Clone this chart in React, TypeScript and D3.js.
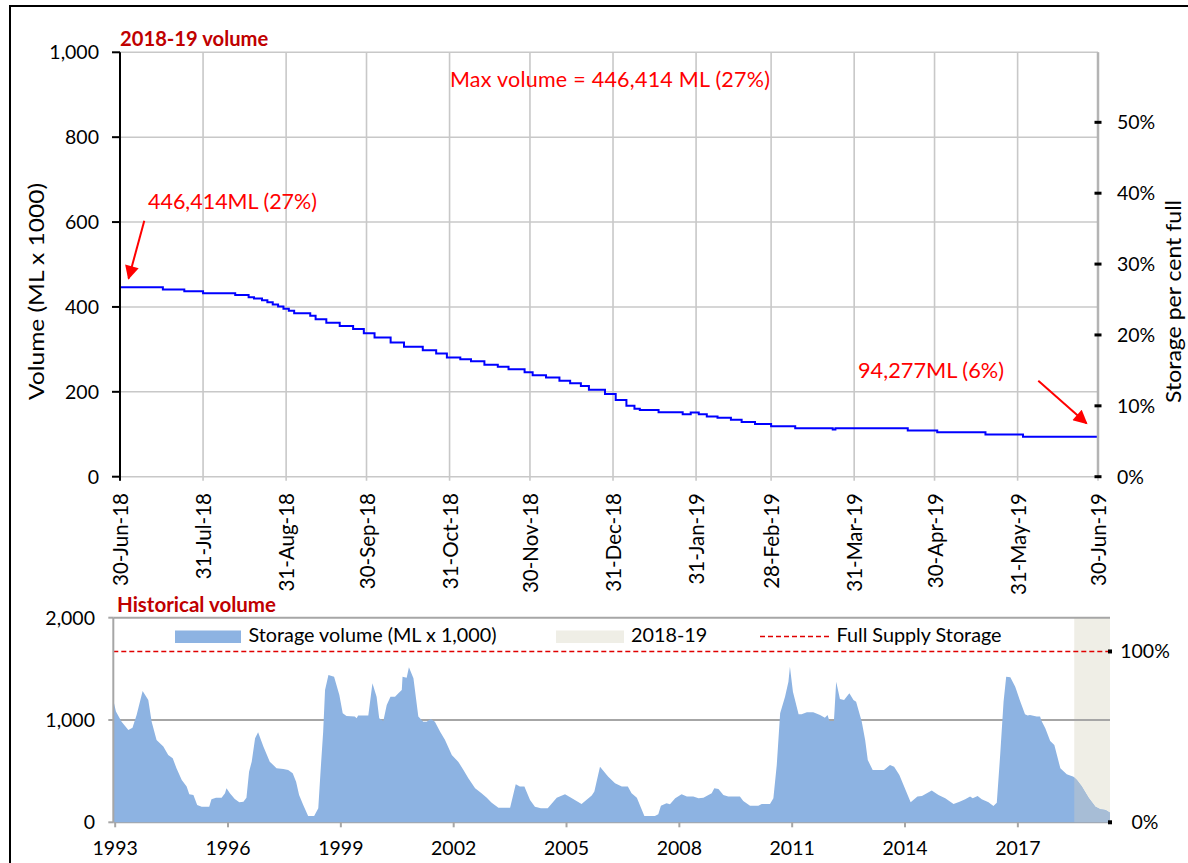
import React from 'react';
import * as d3 from 'd3';

// ---------- DATA ----------
const FULL_SUPPLY = 1670; // ML x 1000

const dailyDates = [
  '2018-06-30', '2018-07-16', '2018-07-24', '2018-07-31', '2018-08-12', '2018-08-17',
  '2018-08-19', '2018-08-22', '2018-08-24', '2018-08-26', '2018-08-28', '2018-08-30',
  '2018-09-01', '2018-09-03', '2018-09-09', '2018-09-11', '2018-09-15', '2018-09-20',
  '2018-09-25', '2018-09-29', '2018-10-03', '2018-10-09', '2018-10-14', '2018-10-21',
  '2018-10-26', '2018-10-30', '2018-11-04', '2018-11-08', '2018-11-13', '2018-11-18',
  '2018-11-22', '2018-11-28', '2018-12-01', '2018-12-06', '2018-12-11', '2018-12-15',
  '2018-12-19', '2018-12-22', '2018-12-28', '2019-01-01', '2019-01-05', '2019-01-08',
  '2019-01-10', '2019-01-17', '2019-01-26', '2019-01-29', '2019-02-01', '2019-02-04',
  '2019-02-08', '2019-02-13', '2019-02-17', '2019-02-22', '2019-02-28', '2019-03-09',
  '2019-03-23', '2019-03-24', '2019-04-20', '2019-05-01', '2019-05-19', '2019-06-02',
  '2019-06-30',
];
const dailyVolume = [
  446.4, 441, 437, 432, 428, 423,
  420, 416, 411, 406, 401, 396,
  391, 385, 379, 371, 363, 355,
  348, 338, 328, 316, 306, 298,
  290, 281, 277, 272, 264, 259,
  253, 246, 239, 234, 226, 220,
  214, 205, 195, 181, 167, 160,
  157, 152, 147, 151, 147, 142,
  139, 134, 129, 124, 119, 114,
  111, 114, 109, 104.5, 99.5, 94.3,
  94.3,
];

const monthTicks = [
  '2018-06-30', '2018-07-31', '2018-08-31', '2018-09-30', '2018-10-31', '2018-11-30',
  '2018-12-31', '2019-01-31', '2019-02-28', '2019-03-31', '2019-04-30', '2019-05-31',
  '2019-06-30',
];

const histYears = [
  1992.95, 1993.02, 1993.17, 1993.35, 1993.46, 1993.57, 1993.73, 1993.88, 1993.97, 1994.10,
  1994.28, 1994.41, 1994.53, 1994.63, 1994.77, 1994.90, 1994.97, 1995.08, 1995.18, 1995.30,
  1995.50, 1995.56, 1995.68, 1995.83, 1995.92, 1995.96, 1996.05, 1996.18, 1996.30, 1996.41,
  1996.49, 1996.56, 1996.63, 1996.72, 1996.80, 1996.94, 1997.11, 1997.29, 1997.47, 1997.60,
  1997.72, 1997.81, 1997.89, 1998.00, 1998.13, 1998.29, 1998.40, 1998.46, 1998.53, 1998.58,
  1998.67, 1998.82, 1998.96, 1999.05, 1999.15, 1999.37, 1999.42, 1999.46, 1999.73, 1999.84,
  1999.95, 2000.02, 2000.13, 2000.22, 2000.32, 2000.44, 2000.53, 2000.62, 2000.64, 2000.75,
  2000.81, 2000.93, 2001.06, 2001.19, 2001.28, 2001.39, 2001.50, 2001.64, 2001.77, 2001.95,
  2002.12, 2002.26, 2002.39, 2002.57, 2002.74, 2002.88, 2003.01, 2003.19, 2003.50, 2003.65,
  2003.76, 2003.88, 2004.03, 2004.16, 2004.32, 2004.50, 2004.74, 2004.96, 2005.12, 2005.40,
  2005.67, 2005.74, 2005.89, 2006.11, 2006.29, 2006.47, 2006.63, 2006.73, 2006.87, 2007.07,
  2007.35, 2007.44, 2007.51, 2007.66, 2007.75, 2007.89, 2008.06, 2008.20, 2008.37, 2008.51,
  2008.64, 2008.86, 2008.93, 2009.04, 2009.17, 2009.30, 2009.61, 2009.70, 2009.88, 2010.10,
  2010.19, 2010.41, 2010.50, 2010.59, 2010.68, 2010.81, 2010.90, 2010.94, 2011.02, 2011.17,
  2011.25, 2011.39, 2011.56, 2011.74, 2011.87, 2011.94, 2011.99, 2012.11, 2012.17, 2012.27,
  2012.38, 2012.52, 2012.63, 2012.70, 2012.85, 2012.94, 2013.01, 2013.14, 2013.44, 2013.60,
  2013.71, 2013.85, 2013.96, 2014.15, 2014.33, 2014.45, 2014.71, 2014.89, 2015.07, 2015.29,
  2015.45, 2015.60, 2015.73, 2015.80, 2015.93, 2016.04, 2016.22, 2016.35, 2016.44, 2016.53,
  2016.62, 2016.69, 2016.80, 2016.93, 2017.06, 2017.19, 2017.26, 2017.32, 2017.50, 2017.59,
  2017.63, 2017.73, 2017.86, 2017.97, 2018.13, 2018.30, 2018.48, 2018.57, 2018.70, 2018.88,
  2019.06, 2019.19, 2019.33, 2019.45,
];
const histVolume = [
  1196, 1082, 984, 902, 925, 1049, 1284, 1196, 984, 805,
  740, 658, 626, 528, 414, 349, 274, 267, 169, 153,
  153, 225, 241, 241, 283, 332, 283, 228, 195, 202,
  241, 495, 593, 821, 880, 740, 593, 528, 521, 512,
  479, 397, 267, 169, 62, 62, 137, 495, 886, 1293,
  1440, 1424, 1245, 1065, 1039, 1033, 1016, 1043, 1043, 1359,
  1228, 1016, 990, 1147, 1228, 1228, 1261, 1293, 1424, 1414,
  1515, 1407, 1033, 984, 984, 1010, 984, 886, 805, 658,
  593, 512, 430, 332, 283, 241, 192, 143, 143, 371,
  349, 349, 218, 153, 137, 137, 241, 274, 241, 179,
  261, 300, 544, 446, 381, 349, 349, 283, 241, 62,
  62, 78, 163, 186, 176, 235, 274, 251, 251, 235,
  241, 283, 332, 326, 267, 251, 251, 209, 163, 163,
  179, 179, 235, 560, 1065, 1228, 1375, 1521, 1277, 1056,
  1056, 1075, 1075, 1049, 1023, 1049, 990, 990, 1375, 1205,
  1196, 1261, 1196, 1179, 984, 805, 609, 512, 512, 560,
  544, 463, 365, 195, 251, 257, 310, 267, 235, 179,
  202, 225, 251, 235, 257, 225, 195, 160, 192, 658,
  1179, 1424, 1417, 1326, 1186, 1056, 1043, 1049, 1033, 1033,
  990, 919, 795, 756, 528, 469, 446, 414, 349, 241,
  153, 127, 121, 94.3,
];

const topVolumeTicks = [0, 200, 400, 600, 800, 1000];
const topPctTicks = [0, 0.1, 0.2, 0.3, 0.4, 0.5];
const histVolumeTicks = [0, 1000, 2000];
const histPctTicks = [0, 1];
const yearTicks = [1993, 1996, 1999, 2002, 2005, 2008, 2011, 2014, 2017];
const periodStart = 2018.5;
const periodEnd = 2019.45;

// ---------- LAYOUT ----------
const W = 1188;
const H = 863;
const FONT = "Lato, 'Noto Sans', sans-serif";
const TITLE_RED = '#c00000';
const ANNOT_RED = '#ff0000';

const parse = d3.timeParse('%Y-%m-%d');
const fmtTick = d3.timeFormat('%d-%b-%y');
const fmtNum = d3.format(',');
const fmtPct = d3.format('.0%');

export default function App() {
  // top chart scales
  const xT = d3.scaleTime().domain([parse('2018-06-30')!, parse('2019-06-30')!]).range([120, 1098]);
  const yT = d3.scaleLinear().domain([0, 1000]).range([476.7, 52.3]);
  const yTP = d3.scaleLinear().domain([0, 1000 / FULL_SUPPLY]).range([476.7, 52.3]);

  const topPts = dailyDates.map((d, i) => ({ d: parse(d)!, v: dailyVolume[i] }));
  const topLine = d3.line<{ d: Date; v: number }>().x(p => xT(p.d)).y(p => yT(p.v)).curve(d3.curveStepAfter)(topPts) || '';

  // bottom chart scales
  const xH = d3.scaleLinear().domain([1992.95, 2019.45]).range([113.3, 1110]);
  const yH = d3.scaleLinear().domain([0, 2000]).range([822.3, 617.7]);
  const yHP = d3.scaleLinear().domain([0, 1]).range([yH(0), yH(FULL_SUPPLY)]);
  const histPts = histYears.map((y, i) => ({ y, v: histVolume[i] }));
  const histArea = d3.area<{ y: number; v: number }>().x(p => xH(p.y)).y0(yH(0)).y1(p => yH(p.v))(histPts) || '';

  const [tx0, tx1] = xT.range();
  const [hx0, hx1] = xH.range();

  return (
    <svg width={W} height={H} style={{ position: 'absolute', left: 0, top: 0, background: '#fff' }} fontFamily={FONT}>
      <defs>
        <marker id="arrowHead" viewBox="0 0 10 10" refX="9" refY="5" markerWidth="7.5" markerHeight="7" orient="auto">
          <path d="M0,0 L10,5 L0,10 z" fill={ANNOT_RED} />
        </marker>
        <clipPath id="periodClip">
          <rect x={xH(periodStart)} y={yH(2000)} width={xH(periodEnd) - xH(periodStart)} height={yH(0) - yH(2000)} />
        </clipPath>
      </defs>
      <rect x={0} y={0} width={W} height={H} fill="#fff" />
      {/* outer border */}
      <rect x={10} y={6} width={1300} height={1000} fill="none" stroke="#000" strokeWidth={2} />

      {/* ===== TOP CHART ===== */}
      <text x={120} y={46} fill={TITLE_RED} fontWeight="bold" fontSize={20.2}>2018-19 volume</text>

      {/* gridlines */}
      {topVolumeTicks.map(t => (
        <line key={'hg' + t} x1={tx0} x2={tx1} y1={yT(t)} y2={yT(t)} stroke="#c8c8c8" strokeWidth={1.6} />
      ))}
      {monthTicks.map(t => (
        <line key={'vg' + t} x1={xT(parse(t)!)} x2={xT(parse(t)!)} y1={yT(1000)} y2={yT(0) + 4} stroke="#c8c8c8" strokeWidth={1.6} />
      ))}

      {/* line */}
      <path d={topLine} fill="none" stroke="#0000ff" strokeWidth={2} />

      {/* left axis */}
      <line x1={tx0} x2={tx0} y1={yT(1000)} y2={yT(0) + 4} stroke="#000" strokeWidth={2} />
      {topVolumeTicks.map(t => (
        <g key={'lt' + t}>
          <line x1={tx0 - 8} x2={tx0} y1={yT(t)} y2={yT(t)} stroke="#000" strokeWidth={2} />
          <text x={99} y={yT(t)} dy="0.35em" textAnchor="end" fontSize={19.5} fill="#000">{fmtNum(t)}</text>
        </g>
      ))}
      <text transform={`translate(44,${291.5}) rotate(-90)`} textAnchor="middle" fontSize={22} fill="#000" textLength={217} lengthAdjust="spacingAndGlyphs">Volume (ML x 1000)</text>

      {/* right axis */}
      <line x1={tx1} x2={tx1} y1={yT(1000)} y2={yT(0)} stroke="#b4b4b4" strokeWidth={2.5} />
      {topPctTicks.map(t => (
        <g key={'rt' + t}>
          <line x1={tx1 - 3.5} x2={tx1 + 3.5} y1={yTP(t)} y2={yTP(t)} stroke="#000" strokeWidth={3} />
          <text x={1117} y={yTP(t)} dy="0.35em" fontSize={19.5} fill="#000">{fmtPct(t)}</text>
        </g>
      ))}
      <text transform={`translate(1181,${301.5}) rotate(-90)`} textAnchor="middle" fontSize={22} fill="#000" textLength={203} lengthAdjust="spacingAndGlyphs">Storage per cent full</text>

      {/* x tick labels */}
      {monthTicks.map(t => (
        <text key={'xl' + t} transform={`translate(${xT(parse(t)!) + 8},493) rotate(-90)`} textAnchor="end" fontSize={20.5} fill="#000">
          {fmtTick(parse(t)!)}
        </text>
      ))}

      {/* annotations */}
      <text x={450} y={86.5} fontSize={21.5} fill={ANNOT_RED} textLength={320} lengthAdjust="spacing">Max volume = 446,414 ML (27%)</text>
      <text x={148} y={208.5} fontSize={21.5} fill={ANNOT_RED} textLength={169} lengthAdjust="spacingAndGlyphs">446,414ML (27%)</text>
      <line x1={144.3} y1={220.7} x2={128.6} y2={278.5} stroke={ANNOT_RED} strokeWidth={2} markerEnd="url(#arrowHead)" />
      <text x={858} y={377.5} fontSize={21.5} fill={ANNOT_RED} textLength={146} lengthAdjust="spacingAndGlyphs">94,277ML (6%)</text>
      <line x1={1038.3} y1={380.7} x2={1086.5} y2={423.3} stroke={ANNOT_RED} strokeWidth={2} markerEnd="url(#arrowHead)" />

      {/* ===== BOTTOM CHART ===== */}
      <text x={117} y={611.5} fill={TITLE_RED} fontWeight="bold" fontSize={20.5}>Historical volume</text>

      {/* 2018-19 shading */}
      <rect x={xH(periodStart)} y={yH(2000)} width={xH(periodEnd) - xH(periodStart)} height={yH(0) - yH(2000)} fill="#efeee6" />

      {/* gridlines */}
      {histVolumeTicks.map(t => (
        <line key={'bg' + t} x1={hx0} x2={hx1} y1={yH(t)} y2={yH(t)} stroke="#a6a6a6" strokeWidth={2} />
      ))}

      {/* area */}
      <path d={histArea} fill="#8db3e2" />
      <path d={histArea} fill="#a7bdd6" clipPath="url(#periodClip)" />

      {/* full supply */}
      <line x1={hx0} x2={hx1} y1={yH(FULL_SUPPLY)} y2={yH(FULL_SUPPLY)} stroke="#e00000" strokeWidth={1.6} strokeDasharray="5,3" />

      {/* axes */}
      <line x1={hx0} x2={hx0} y1={yH(2000)} y2={yH(0)} stroke="#a6a6a6" strokeWidth={2} />
      {histVolumeTicks.map(t => (
        <g key={'bl' + t}>
          <line x1={hx0 - 5} x2={hx0} y1={yH(t)} y2={yH(t)} stroke="#a6a6a6" strokeWidth={2} />
          <text x={95} y={yH(t)} dy="0.35em" textAnchor="end" fontSize={19.5} fill="#000">{fmtNum(t)}</text>
        </g>
      ))}
      {yearTicks.map(t => (
        <g key={'yt' + t}>
          <line x1={xH(t)} x2={xH(t)} y1={yH(0)} y2={yH(0) + 5} stroke="#a6a6a6" strokeWidth={2} />
          <text x={xH(t)} y={855} textAnchor="middle" fontSize={19.5} fill="#000">{t}</text>
        </g>
      ))}
      {histPctTicks.map(t => (
        <g key={'bp' + t}>
          <rect x={hx1 - 2} y={yHP(t) - 2} width={4} height={4} fill="#000" />
          <text x={1145} y={yHP(t)} dy="0.35em" textAnchor="middle" fontSize={19.5} fill="#000">{fmtPct(t)}</text>
        </g>
      ))}

      {/* legend */}
      <rect x={175} y={630.5} width={66} height={12.5} fill="#8db3e2" />
      <text x={248.5} y={642} fontSize={19.8} fill="#000">Storage volume (ML x 1,000)</text>
      <rect x={556} y={630.5} width={68} height={12.5} fill="#efeee6" />
      <text x={631} y={642} fontSize={19.8} fill="#000">2018-19</text>
      <line x1={760} x2={830} y1={636.5} y2={636.5} stroke="#e00000" strokeWidth={1.6} strokeDasharray="5,3" />
      <text x={836.5} y={642} fontSize={19.8} fill="#000">Full Supply Storage</text>
    </svg>
  );
}
